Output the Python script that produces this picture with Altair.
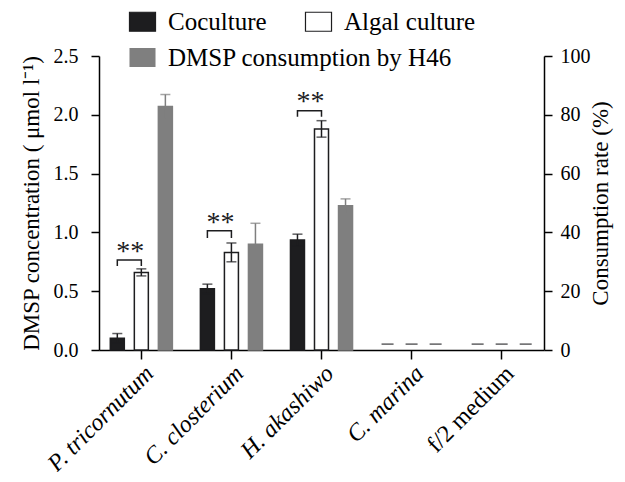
import altair as alt
import pandas as pd

categories = ["P. tricornutum", "C. closterium", "H. akashiwo", "C. marina", "f/2 medium"]
groups = ["Coculture", "Algal culture", "DMSP consumption by H46"]
measured = ["P. tricornutum", "C. closterium", "H. akashiwo"]

# DMSP concentration (µmol l-1), left axis
coculture_mean = [0.10, 0.52, 0.935]
coculture_err = [0.04, 0.04, 0.05]
algal_mean = [0.66, 0.83, 1.88]
algal_err = [0.03, 0.08, 0.07]

# consumption rate (%), right axis
consumption_mean = [82.8, 36.0, 49.1]
consumption_err = [4.1, 7.1, 2.3]

# not detected marks
not_detected = ["C. marina", "f/2 medium"]
nd_level = 0.05

# significance brackets (left-axis units)
sig_top = [0.765, 1.014, 2.035]
sig_leg = [0.714, 0.952, 1.984]
sig_star = [0.836, 1.082, 2.11]
sig_text = "**"

FONT = "Liberation Serif"
DARK = "#1d1d1f"
GRAY = "#7f7f7f"
RECT = "M-1.37,-1L1.37,-1L1.37,1L-1.37,1Z"

rows = []
for c, m, e in zip(measured, coculture_mean, coculture_err):
    rows.append({"cat": c, "group": groups[0], "mean": m, "lo": m - e, "hi": m + e})
for c, m, e in zip(measured, algal_mean, algal_err):
    rows.append({"cat": c, "group": groups[1], "mean": m, "lo": m - e, "hi": m + e})
left_df = pd.DataFrame(rows)

right_df = pd.DataFrame({
    "cat": measured,
    "group": groups[2],
    "mean": consumption_mean,
    "lo": [m - e for m, e in zip(consumption_mean, consumption_err)],
    "hi": [m + e for m, e in zip(consumption_mean, consumption_err)],
})

nd_df = pd.DataFrame([{"cat": c, "group": g, "v": nd_level} for c in not_detected for g in groups])

br_rows = []
for c, t, l in zip(measured, sig_top, sig_leg):
    br_rows += [
        {"cat": c, "group": groups[0], "v": l, "o": 0},
        {"cat": c, "group": groups[0], "v": t, "o": 1},
        {"cat": c, "group": groups[1], "v": t, "o": 2},
        {"cat": c, "group": groups[1], "v": l, "o": 3},
    ]
br_df = pd.DataFrame(br_rows)
star_df = pd.DataFrame({"cat": measured, "group": groups[0], "v": sig_star})

x_scale = alt.Scale(domain=categories, paddingInner=0.2, paddingOuter=0.07)
xo_scale = alt.Scale(domain=groups, paddingInner=0.417, paddingOuter=0.208)
yl_scale = alt.Scale(domain=[0, 2.5], nice=False, zero=True)
yr_scale = alt.Scale(domain=[0, 100], nice=False, zero=True)

x_axis = alt.Axis(
    title=None, labelAngle=-45, labelFont=FONT, labelFontSize=24,
    labelFontStyle={"condition": {"test": "datum.value == 'f/2 medium'", "value": "normal"}, "value": "italic"},
    tickSize=9, labelPadding=2, labelAlign="right", labelBaseline="top",
)
left_axis = alt.Axis(
    title="DMSP concentration ( μmol l⁻¹)", values=[0, 0.5, 1.0, 1.5, 2.0, 2.5], format=".1f",
    labelFont=FONT, labelFontSize=20, titleFont=FONT, titleFontSize=23,
    tickSize=8, labelPadding=13, titlePadding=10,
)
right_axis = alt.Axis(
    orient="right", title="Consumption rate (%)", values=[0, 20, 40, 60, 80, 100],
    labelFont=FONT, labelFontSize=20, titleFont=FONT, titleFontSize=23,
    titleAngle=270, titleBaseline="bottom",
    tickSize=8, labelPadding=8, titlePadding=22,
)


def xN():
    return alt.X("cat:N", scale=x_scale, axis=x_axis)


def xoN():
    return alt.XOffset("group:N", scale=xo_scale)


def yL(field):
    return alt.Y(field, scale=yl_scale, axis=left_axis)


def yR(field):
    return alt.Y(field, scale=yr_scale, axis=right_axis)


fill_legend = alt.Legend(
    title=None, orient="none", legendX=31, legendY=-47, direction="horizontal",
    values=groups[:2], symbolType=RECT, symbolSize=361, symbolStrokeWidth=1.2,
    symbolStrokeColor=DARK, labelFont=FONT, labelFontSize=25, labelColor="black",
    labelOffset=13, columnPadding=36, labelLimit=400,
)
stroke_legend = alt.Legend(
    title=None, orient="none", legendX=31, legendY=-11, direction="horizontal",
    values=groups[2:], symbolType=RECT, symbolSize=361, symbolStrokeWidth=0,
    symbolFillColor=GRAY, labelFont=FONT, labelFontSize=25, labelColor="black",
    labelOffset=13, labelLimit=400,
)
fill_enc = alt.Fill("group:N", scale=alt.Scale(domain=groups, range=[DARK, "#ffffff", GRAY]), legend=fill_legend)
stroke_domain = [groups[2], groups[0], groups[1]]
stroke_enc = alt.Stroke("group:N", scale=alt.Scale(domain=stroke_domain, range=[GRAY, DARK, DARK]), legend=stroke_legend)

bars_left = alt.Chart(left_df).mark_bar(strokeWidth=1.5).encode(
    x=xN(), xOffset=xoN(), y=yL("mean:Q"), fill=fill_enc, stroke=stroke_enc,
)
whisk_left = alt.Chart(left_df).mark_rule(color=DARK, strokeWidth=1.5).encode(
    x=xN(), xOffset=xoN(), y=yL("lo:Q"), y2="hi:Q")
cap_hi_left = alt.Chart(left_df).mark_tick(color=DARK, thickness=1.5, size=10, orient="horizontal").encode(
    x=xN(), xOffset=xoN(), y=yL("hi:Q"))
cap_lo_left = alt.Chart(left_df).mark_tick(color=DARK, thickness=1.5, size=10, orient="horizontal").encode(
    x=xN(), xOffset=xoN(), y=yL("lo:Q"))
nd_marks = alt.Chart(nd_df).mark_tick(color=DARK, thickness=1.5, size=12, orient="horizontal").encode(
    x=xN(), xOffset=xoN(), y=yL("v:Q"))
brackets = alt.Chart(br_df).mark_line(color=DARK, strokeWidth=1.5).encode(
    x=xN(), xOffset=xoN(), y=yL("v:Q"), detail="cat:N", order="o:Q")
stars = alt.Chart(star_df).mark_text(font=FONT, fontSize=28, baseline="middle", dx=13, color=DARK).encode(
    x=xN(), xOffset=xoN(), y=yL("v:Q"), text=alt.value(sig_text))

left = alt.layer(bars_left, whisk_left, cap_hi_left, cap_lo_left, nd_marks, brackets, stars)

bars_right = alt.Chart(right_df).mark_bar(strokeWidth=1.5).encode(
    x=xN(), xOffset=xoN(), y=yR("mean:Q"), fill=fill_enc, stroke=stroke_enc,
)
whisk_right = alt.Chart(right_df).mark_rule(color=GRAY, strokeWidth=1.5).encode(
    x=xN(), xOffset=xoN(), y=yR("lo:Q"), y2="hi:Q")
cap_right = alt.Chart(right_df).mark_tick(color=GRAY, thickness=1.5, size=10, orient="horizontal").encode(
    x=xN(), xOffset=xoN(), y=yR("hi:Q"))

right = alt.layer(bars_right, whisk_right, cap_right)

chart = alt.layer(left, right).resolve_scale(y="independent").properties(
    width=445, height=294,
    autosize=alt.AutoSizeParams(type="none"),
    padding={"left": 91, "top": 48, "right": 73, "bottom": 122},
    background="white",
).configure(
    font=FONT,
    style={"guide-label": {"font": FONT}, "guide-title": {"font": FONT}},
).configure_view(
    stroke=None
).configure_axis(
    labelFont=FONT, titleFont=FONT, labelColor="black", titleColor="black",
    titleFontWeight="normal", domainColor="black", domainWidth=1.5,
    tickColor="black", tickWidth=1.5, grid=False,
).configure_legend(
    labelFont=FONT
)

chart.save("out.html", embed_options={"renderer": "svg", "actions": False})
